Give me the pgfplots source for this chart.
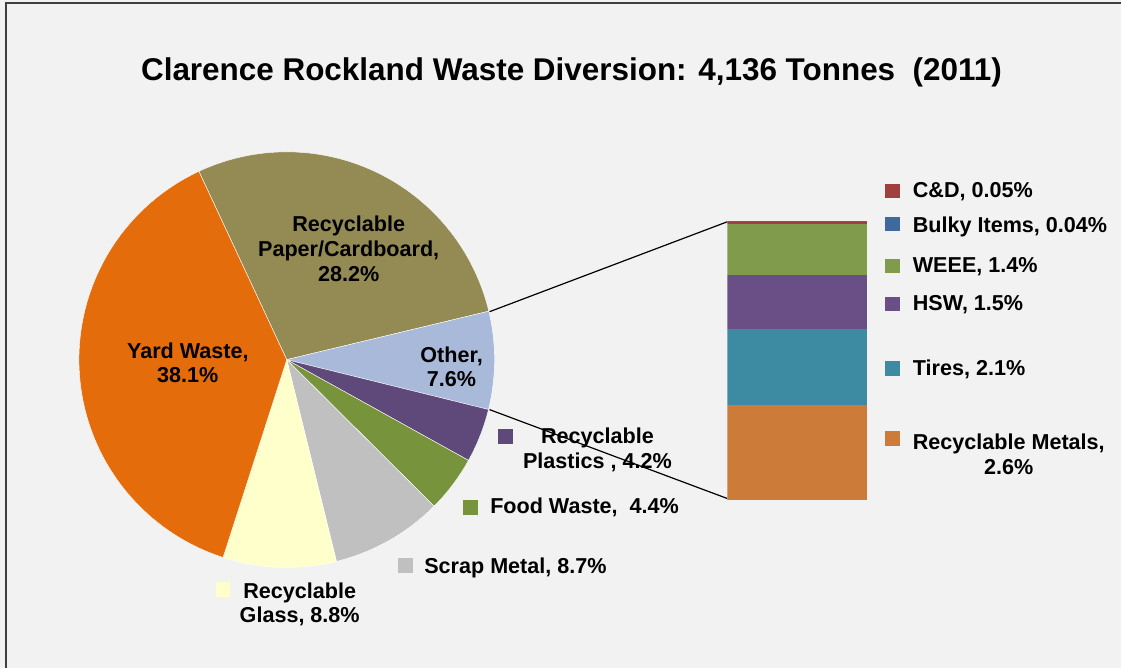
\documentclass[border=0pt]{standalone}
\usepackage{pgfplots}
\pgfplotsset{compat=1.18}
\usepackage{fontspec}
\setmainfont{Liberation Sans}
\definecolor{bgc}{HTML}{F2F2F2}
\definecolor{cyard}{HTML}{E46C0A}
\definecolor{cpaper}{HTML}{948A54}
\definecolor{cother}{HTML}{A9B9D9}
\definecolor{cplast}{HTML}{5F497A}
\definecolor{cfood}{HTML}{77933C}
\definecolor{cscrap}{HTML}{C0C0C0}
\definecolor{cglass}{HTML}{FFFFCC}
\definecolor{cmetal}{HTML}{CD7B38}
\definecolor{ctire}{HTML}{3D8BA3}
\definecolor{chsw}{HTML}{694F86}
\definecolor{cweee}{HTML}{7F9B4B}
\definecolor{cbulky}{HTML}{3F6A9E}
\definecolor{ccd}{HTML}{A0403D}
% pie slice: #1 cumulative start %, #2 cumulative end %, #3 colour
\newcommand\pieslice[3]{%
  \addplot[fill=#3, draw=white, line width=0.3pt, domain=0:1, samples=60, variable=\t]
    ({287+208*cos(115-3.6*(#1+(#2-#1)*\t))},{309+208*sin(115-3.6*(#1+(#2-#1)*\t))})
    -- (axis cs:287,309) -- cycle;}
\newcommand\lab{\bfseries\fontsize{16.2}{18.5}\selectfont}
\begin{document}
\begin{tikzpicture}
\fill[bgc] (0,0) rectangle (841.5pt,501.75pt);
\draw[black!75, line width=1.6pt] (4.5pt,0) -- (4.5pt,499.5pt) -- (841.5pt,499.5pt);
\begin{axis}[name=main, at={(0,0)}, anchor=south west, scale only axis,
  width=841.5pt, height=501.75pt, xmin=0, xmax=1122, ymin=0, ymax=669,
  hide axis, clip=false]
% pie: Recyclable Paper/Cardboard 28.2, Other 7.6, Recyclable Plastics 4.2,
% Food Waste 4.4, Scrap Metal 8.7, Recyclable Glass 8.8, Yard Waste 38.1
\pieslice{0}{28.2}{cpaper}
\pieslice{28.2}{35.8}{cother}
\pieslice{35.8}{40.0}{cplast}
\pieslice{40.0}{44.4}{cfood}
\pieslice{44.4}{53.1}{cscrap}
\pieslice{53.1}{61.9}{cglass}
\pieslice{61.9}{100}{cyard}
% connector lines
\addplot[black, line width=0.9pt] coordinates {(490,357) (728,447)};
\addplot[black, line width=0.9pt] coordinates {(490,259) (728,170)};
% legend squares
\addplot[only marks, mark=square*, mark size=5.2pt, cplast] coordinates {(506,232)};
\addplot[only marks, mark=square*, mark size=5.2pt, cfood] coordinates {(471,161)};
\addplot[only marks, mark=square*, mark size=5.2pt, cscrap] coordinates {(406,103)};
\addplot[only marks, mark=square*, mark size=5.2pt, cglass] coordinates {(223,79)};
\addplot[only marks, mark=square*, mark size=5.2pt, ccd] coordinates {(893,478)};
\addplot[only marks, mark=square*, mark size=5.2pt, cbulky] coordinates {(893,445)};
\addplot[only marks, mark=square*, mark size=5.2pt, cweee] coordinates {(893,403)};
\addplot[only marks, mark=square*, mark size=5.2pt, chsw] coordinates {(893,365)};
\addplot[only marks, mark=square*, mark size=5.2pt, ctire] coordinates {(893,300)};
\addplot[only marks, mark=square*, mark size=5.2pt, cmetal] coordinates {(893,230)};
% title
\node[font=\bfseries\fontsize{23.6}{27}\selectfont] at (axis cs:572,597)
  {Clarence Rockland Waste Diversion: 4,136 Tonnes\ \ (2011)};
% labels
\node[font=\lab, align=center] at (axis cs:349,420) {Recyclable\\Paper/Cardboard,\\28.2\%};
\node[font=\lab, align=center] at (axis cs:188,306) {Yard Waste,\\38.1\%};
\node[font=\lab, align=center] at (axis cs:452,302) {Other,\\7.6\%};
\node[font=\lab, align=center] at (axis cs:598,219) {Recyclable\\Plastics , 4.2\%};
\node[font=\lab, anchor=west] at (axis cs:486,161) {Food Waste,\ \ 4.4\%};
\node[font=\lab, anchor=west] at (axis cs:420,101) {Scrap Metal, 8.7\%};
\node[font=\lab, align=center] at (axis cs:300,64) {Recyclable\\Glass, 8.8\%};
\node[font=\lab, anchor=west] at (axis cs:909,477) {C\&D, 0.05\%};
\node[font=\lab, anchor=west] at (axis cs:909,442) {Bulky Items, 0.04\%};
\node[font=\lab, anchor=west] at (axis cs:909,402) {WEEE, 1.4\%};
\node[font=\lab, anchor=west] at (axis cs:909,364) {HSW, 1.5\%};
\node[font=\lab, anchor=west] at (axis cs:909,299) {Tires, 2.1\%};
\node[font=\lab, anchor=west, align=center] at (axis cs:909,214) {Recyclable Metals,\\2.6\%};
\end{axis}
\begin{axis}[at={(546pt,126.75pt)}, anchor=south west, scale only axis,
  width=105pt, height=209.25pt, xmin=-0.5, xmax=0.5, ymin=0, ymax=7.69,
  hide axis, ybar stacked, bar width=105pt]
\addplot[fill=cmetal, draw=none] coordinates {(0,2.6)};
\addplot[fill=ctire, draw=none] coordinates {(0,2.1)};
\addplot[fill=chsw, draw=none] coordinates {(0,1.5)};
\addplot[fill=cweee, draw=none] coordinates {(0,1.4)};
\addplot[fill=ccd, draw=none] coordinates {(0,0.05)};
\addplot[fill=cbulky, draw=none] coordinates {(0,0.04)};
\end{axis}
\end{tikzpicture}
\end{document}
